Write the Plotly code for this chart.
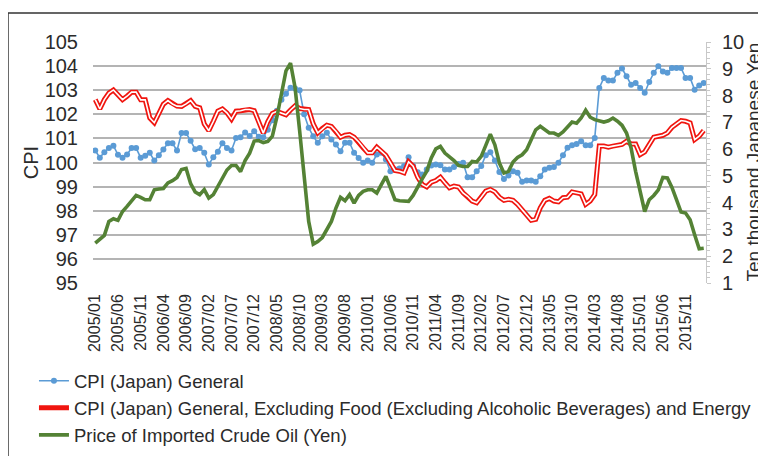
import plotly.graph_objects as go

# ---- data (monthly, 2005/01 .. 2016/03) ----
months = [f"{y}/{m:02d}" for y in range(2005, 2017) for m in range(1, 13)][:135]

tick_labels = ["2005/01", "2005/06", "2005/11", "2006/04", "2006/09", "2007/02", "2007/07",
               "2007/12", "2008/05", "2008/10", "2009/03", "2009/08", "2010/01", "2010/06",
               "2010/11", "2011/04", "2011/09", "2012/02", "2012/07", "2012/12", "2013/05",
               "2013/10", "2014/03", "2014/08", "2015/01", "2015/06", "2015/11"]

cpi_general = [
    100.5, 100.2, 100.43, 100.6, 100.7, 100.32, 100.2, 100.33, 100.6, 100.6,
    100.2, 100.28, 100.4, 100.08, 100.3, 100.54, 100.8, 100.8, 100.5, 101.22,
    101.22, 100.9, 100.55, 100.6, 100.4, 99.92, 100.22, 100.45, 100.8, 100.6,
    100.5, 101.02, 101.05, 101.25, 101.1, 101.3, 101.07, 101.05, 101.36, 101.75,
    102.15, 102.6, 102.85, 103.1, 103.07, 103.0, 102.0, 101.44, 101.09, 100.82,
    101.09, 101.23, 100.95, 100.75, 100.47, 100.82, 100.82, 100.4, 100.19, 99.99,
    100.08, 99.99, 100.33, 100.4, 100.12, 99.64, 99.71, 99.75, 99.85, 100.22,
    99.85, 99.6, 99.5, 99.71, 99.88, 99.92, 99.89, 99.71, 99.71, 99.81,
    99.94, 99.99, 99.39, 99.39, 99.64, 99.85, 100.3, 100.43, 100.08, 99.61,
    99.32, 99.46, 99.64, 99.57, 99.2, 99.25, 99.25, 99.2, 99.43, 99.71,
    99.78, 99.81, 99.99, 100.3, 100.61, 100.72, 100.77, 100.88, 100.72, 100.72,
    101.02, 103.09, 103.51, 103.4, 103.4, 103.72, 103.9, 103.58, 103.23, 103.3,
    103.09, 102.89, 103.34, 103.72, 103.99, 103.78, 103.72, 103.92, 103.92, 103.92,
    103.51, 103.51, 103.02, 103.2, 103.3]

cpi_core = [
    102.61, 102.22, 102.61, 102.88, 103.01, 102.79, 102.61, 102.75, 102.92, 102.92,
    102.6, 102.6, 101.85, 101.65, 102.06, 102.42, 102.57, 102.43, 102.34, 102.33,
    102.43, 102.57, 102.33, 102.27, 101.6, 101.32, 101.71, 102.13, 102.22, 102.06,
    101.8, 102.13, 102.15, 102.2, 102.2, 102.15, 101.68, 101.22, 101.7, 102.04,
    102.12, 102.06, 101.98, 102.18, 102.35, 102.24, 102.2, 102.2, 101.6, 101.23,
    101.41, 101.55, 101.5, 101.3, 101.05, 101.13, 101.16, 101.05, 100.86, 100.61,
    100.4, 100.4, 100.64, 100.47, 100.3, 99.99, 99.67, 99.64, 99.57, 100.03,
    99.85, 99.39, 99.09, 98.99, 99.18, 99.25, 99.39, 99.16, 98.95, 99.02,
    98.98, 98.74, 98.6, 98.4, 98.33, 98.56, 98.81, 98.88, 98.78, 98.56,
    98.43, 98.47, 98.43, 98.26, 98.05, 97.85, 97.6, 97.64, 98.12, 98.43,
    98.51, 98.4, 98.37, 98.54, 98.56, 98.78, 98.74, 98.7, 98.26, 98.4,
    98.67, 100.68, 100.68, 100.64, 100.68, 100.72, 100.75, 100.88, 100.77, 100.77,
    100.33, 100.44, 100.77, 101.05, 101.09, 101.13, 101.23, 101.46, 101.6, 101.74,
    101.71, 101.64, 100.95, 101.09, 101.33]

crude_oil = [
    2.49, 2.65, 2.78, 3.3, 3.4, 3.34, 3.67, 3.86, 4.06, 4.27,
    4.2, 4.11, 4.11, 4.48, 4.51, 4.53, 4.74, 4.82, 4.94, 5.24,
    5.28, 4.71, 4.4, 4.3, 4.49, 4.17, 4.3, 4.6, 4.96, 5.22,
    5.39, 5.39, 5.16, 5.57, 5.85, 6.3, 6.32, 6.24, 6.29, 6.48,
    7.2, 8.15, 8.92, 9.21, 8.3, 6.7, 5.0, 3.3, 2.45, 2.55,
    2.7, 2.99, 3.3, 3.8, 4.2, 4.07, 4.3, 3.98, 4.27, 4.42,
    4.48, 4.48, 4.36, 4.67, 4.98, 4.55, 4.11, 4.07, 4.05, 4.05,
    4.27, 4.61, 4.89, 5.17, 5.67, 6.01, 6.1, 5.85, 5.73, 5.57,
    5.39, 5.35, 5.35, 5.54, 5.52, 5.73, 6.14, 6.56, 6.16, 5.48,
    5.11, 5.17, 5.52, 5.69, 5.79, 5.98, 6.35, 6.72, 6.85, 6.72,
    6.6, 6.6, 6.51, 6.64, 6.85, 7.01, 6.97, 7.16, 7.45, 7.19,
    7.1, 7.04, 7.01, 7.06, 7.16, 7.04, 6.89, 6.6, 6.04, 5.17,
    4.42, 3.67, 4.11, 4.27, 4.48, 4.94, 4.92, 4.57, 4.11, 3.65,
    3.61, 3.36, 2.8, 2.28, 2.3]

series_names = ["CPI (Japan) General",
                "CPI (Japan) General, Excluding Food (Excluding Alcoholic Beverages) and Energy",
                "Price of Imported Crude Oil (Yen)"]

right_axis_title = "Ten thousand Japanese Yen"

x = list(range(len(months)))
tick_vals = [months.index(t) for t in tick_labels]

FONT = "Liberation Sans, Arial, sans-serif"
TXT = "#2b2b2b"

fig = go.Figure()
fig.add_trace(go.Scatter(
    x=x, y=cpi_general, customdata=months, name=series_names[0], mode="lines+markers",
    line=dict(color="#5b9bd5", width=1.6), marker=dict(size=6, color="#5b9bd5")))
fig.add_trace(go.Scatter(
    x=x, y=cpi_core, customdata=months, name=series_names[1], mode="lines",
    line=dict(color="#f0150f", width=5)))
fig.add_trace(go.Scatter(
    x=x, y=cpi_core, mode="lines", line=dict(color="white", width=1.6),
    showlegend=False, hoverinfo="skip"))
fig.add_trace(go.Scatter(
    x=x, y=crude_oil, customdata=months, name=series_names[2], mode="lines",
    line=dict(color="#548235", width=3.6), yaxis="y2"))

# page body adds an 8px offset, so the figure is 758x448 and shifted margins
fig.update_layout(
    width=758, height=448, autosize=False,
    margin=dict(l=85, r=60, t=34, b=173, autoexpand=False),
    paper_bgcolor="white", plot_bgcolor="white",
    font=dict(family=FONT, color=TXT),
    showlegend=True,
    legend=dict(orientation="v", x=-0.0963, y=-0.329, xanchor="left", yanchor="top",
                font=dict(size=18.5, family=FONT, color=TXT), traceorder="normal",
                bgcolor="rgba(0,0,0,0)"),
    xaxis=dict(range=[-0.5, len(months) - 0.5], tickmode="array", tickvals=tick_vals,
               ticktext=tick_labels, tickangle=-90, tickfont=dict(size=16, family=FONT, color=TXT),
               showgrid=False, zeroline=False, showline=False, ticks="", ticklabelstandoff=7),
    yaxis=dict(range=[95, 105], dtick=1, tick0=95, showgrid=True, gridcolor="#b4b4b4",
               gridwidth=1.6, zeroline=False, showline=False, ticks="",
               tickfont=dict(size=20, family=FONT, color=TXT), ticklabelstandoff=14,
               title=dict(text="CPI", font=dict(size=20, family=FONT, color=TXT), standoff=0)),
    yaxis2=dict(range=[1, 10], dtick=1, tick0=1, overlaying="y", side="right",
                showgrid=False, zeroline=False, showline=True, linecolor="#c8c8c8", linewidth=1,
                ticks="outside", ticklen=4, tickcolor="#c8c8c8",
                minor=dict(dtick=0.2, ticks="outside", ticklen=3, tickcolor="#c8c8c8"),
                tickfont=dict(size=20, family=FONT, color=TXT), ticklabelstandoff=7),
    annotations=[dict(text=right_axis_title, xref="paper", yref="paper", x=1.0767, y=0.5,
                      xanchor="center", yanchor="middle", textangle=-90, showarrow=False,
                      font=dict(size=19, family=FONT, color=TXT))],
    shapes=[dict(type="rect", xref="paper", yref="paper", x0=-0.1387, x1=1.2, y0=-0.95, y1=1.1203,
                 line=dict(color="#333333", width=1.5), fillcolor="rgba(0,0,0,0)", layer="above")],
)

fig.write_html("out.html")
